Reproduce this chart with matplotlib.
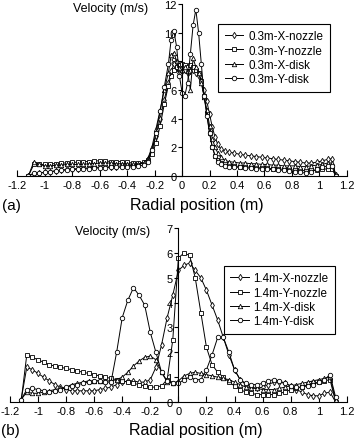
import matplotlib
matplotlib.use("Agg")
import matplotlib.pyplot as plt

plt.rcParams['font.family'] = ['Liberation Sans', 'DejaVu Sans']
plt.rcParams['axes.unicode_minus'] = False

# radial positions (m), panel (a)
r_a = [-1.12, -1.08, -1.04, -1.00, -0.96, -0.92, -0.88, -0.84, -0.80, -0.76, -0.72,
       -0.68, -0.64, -0.60, -0.56, -0.52, -0.48, -0.44, -0.40, -0.36, -0.32, -0.28,
       -0.25, -0.22, -0.19, -0.16, -0.13, -0.10,
       -0.08, -0.06, -0.04, -0.02, 0.00, 0.02, 0.04, 0.06, 0.08, 0.10, 0.12, 0.14,
       0.16, 0.18, 0.20, 0.22, 0.24, 0.26, 0.28,
       0.31, 0.34,
       0.38, 0.42, 0.46, 0.50, 0.54, 0.58, 0.62, 0.66, 0.70, 0.74, 0.78, 0.82, 0.86,
       0.90, 0.94, 0.98, 1.02, 1.06,
       1.09, 1.12]

a_x_nozzle = [0.0, 0.15, 0.2, 0.25, 0.3, 0.35, 0.4, 0.45, 0.5, 0.5, 0.55, 0.55, 0.6, 0.6,
              0.6, 0.65, 0.65, 0.7, 0.7, 0.75, 0.8, 0.9,
              1.2, 1.8, 2.8, 4.0, 5.3, 6.5,
              7.3, 7.8, 7.5, 7.2, 7.3, 7.4, 7.2, 7.3, 7.4, 7.2, 7.0, 6.6, 6.0, 5.2, 4.3,
              3.4, 2.7, 2.2, 1.9,
              1.75, 1.65,
              1.6, 1.5, 1.45, 1.4, 1.35, 1.3, 1.25, 1.2, 1.15, 1.1, 1.05, 1.0, 0.95, 0.9,
              0.9, 0.95, 1.05, 1.15,
              1.2, 0.0]
a_y_nozzle = [0.0, 0.8, 0.8, 0.8, 0.85, 0.85, 0.9, 0.9, 0.95, 0.95, 1.0, 1.0, 1.05, 1.05,
              1.05, 1.0, 1.0, 1.0, 0.95, 0.9, 0.9, 0.95,
              1.1, 1.5, 2.3, 3.5, 5.0, 6.3,
              7.0, 7.4, 7.6, 7.7, 7.8, 7.7, 7.6, 7.7, 7.6, 7.4, 7.2, 6.6, 5.6, 4.4, 3.0,
              2.0, 1.4, 1.1, 0.9,
              0.8, 0.75,
              0.7, 0.65, 0.65, 0.6, 0.6, 0.55, 0.55, 0.5, 0.5, 0.45, 0.45, 0.4, 0.4, 0.35,
              0.4, 0.4, 0.45, 0.5,
              0.5, 0.0]
a_x_disk = [0.0, 1.0, 0.8, 0.7, 0.7, 0.75, 0.75, 0.8, 0.8, 0.8, 0.8, 0.85, 0.85, 0.9,
            0.9, 0.9, 0.85, 0.85, 0.85, 0.8, 0.85, 0.9,
            1.2, 2.0, 3.3, 4.6, 6.0, 7.2,
            8.4, 8.6, 8.0, 7.5, 7.4, 7.6, 7.3, 6.0, 8.2, 7.6, 7.2, 6.5, 5.5, 4.6, 3.5,
            2.6, 2.0, 1.6, 1.3,
            1.1, 1.0,
            0.95, 0.9, 0.9, 0.85, 0.85, 0.8, 0.8, 0.75, 0.75, 0.7, 0.7, 0.7, 0.65, 0.65,
            0.7, 0.75, 0.8, 0.9,
            0.9, 0.1]
a_y_disk = [0.0, 0.2, 0.2, 0.25, 0.3, 0.35, 0.4, 0.4, 0.45, 0.45, 0.5, 0.5, 0.55, 0.55,
            0.55, 0.6, 0.6, 0.6, 0.6, 0.65, 0.7, 0.75,
            1.0, 1.8, 3.0, 4.5, 6.2, 7.8,
            9.5, 10.1, 9.0, 7.0, 5.8, 5.6, 6.5, 8.5, 10.5, 11.6, 10.0, 7.8, 5.6, 4.2, 3.0,
            2.0, 1.4, 1.0, 0.8,
            0.7, 0.65,
            0.6, 0.6, 0.55, 0.55, 0.5, 0.5, 0.45, 0.45, 0.4, 0.4, 0.35, 0.3, 0.25, 0.2,
            0.3, 0.45, 0.6, 0.7,
            0.7, 0.0]

# radial positions (m), panel (b)
r_b = [-1.12, -1.08, -1.04, -1.00, -0.96, -0.92, -0.88, -0.84, -0.80, -0.76,
       -0.72, -0.68, -0.64, -0.60, -0.56, -0.52, -0.48, -0.44, -0.40, -0.36,
       -0.32, -0.28, -0.24, -0.20, -0.16, -0.12, -0.08, -0.04, 0.00, 0.04,
       0.08, 0.12, 0.16, 0.20, 0.24, 0.28, 0.32, 0.36, 0.40, 0.44,
       0.48, 0.52, 0.56, 0.60, 0.64, 0.68, 0.72, 0.76, 0.80, 0.84,
       0.88, 0.92, 0.96, 1.00, 1.04, 1.08, 1.12]

b_x_nozzle = [0.1, 1.4, 1.3, 1.15, 1.0, 0.85, 0.7, 0.6, 0.5, 0.45,
              0.45, 0.45, 0.45, 0.45, 0.5, 0.55, 0.6, 0.7, 0.8, 0.85,
              0.85, 0.8, 0.8, 0.9, 1.4, 2.3, 3.4, 4.3, 5.3, 5.5,
              5.6, 5.3, 5.0, 4.5, 3.9, 3.3, 2.6, 1.9, 1.3, 0.9,
              0.7, 0.6, 0.55, 0.6, 0.7, 0.8, 0.8, 0.75, 0.65, 0.5,
              0.4, 0.3, 0.25, 0.25, 0.35, 0.4, 0.0]
b_y_nozzle = [0.05, 1.9, 1.8, 1.7, 1.6, 1.5, 1.45, 1.4, 1.35, 1.3,
              1.25, 1.2, 1.15, 1.1, 1.05, 1.0, 0.95, 0.9, 0.85, 0.8,
              0.75, 0.7, 0.65, 0.6, 0.6, 0.65, 0.9, 2.5, 5.8, 6.0,
              5.9, 5.0, 3.6, 2.2, 1.5, 1.2, 1.0, 0.8, 0.65, 0.5,
              0.4, 0.35, 0.3, 0.3, 0.3, 0.3, 0.35, 0.4, 0.5, 0.55,
              0.6, 0.7, 0.75, 0.8, 0.85, 0.9, 0.0]
b_x_disk = [0.1, 0.4, 0.35, 0.35, 0.4, 0.45, 0.5, 0.55, 0.6, 0.7,
            0.75, 0.8, 0.85, 0.85, 0.85, 0.85, 0.85, 0.9, 1.0, 1.2,
            1.45, 1.65, 1.8, 1.85, 1.7, 1.2, 0.8, 0.75, 0.85, 1.05,
            1.15, 1.2, 1.15, 1.1, 1.05, 1.0, 0.95, 0.9, 0.8, 0.7,
            0.6, 0.55, 0.55, 0.5, 0.5, 0.5, 0.55, 0.6, 0.65, 0.7,
            0.75, 0.8, 0.85, 0.9, 0.95, 1.0, 0.1]
b_y_disk = [0.1, 0.5, 0.55, 0.5, 0.45, 0.4, 0.45, 0.5, 0.6, 0.65,
            0.7, 0.75, 0.8, 0.85, 0.85, 0.8, 0.8, 2.0, 3.4, 4.1,
            4.6, 4.3, 3.9, 2.8, 2.0, 1.2, 0.85, 0.75, 0.75, 0.9,
            1.0, 0.9, 0.9, 1.3, 1.9, 2.6, 2.6, 2.0, 1.3, 0.9,
            0.75, 0.7, 0.7, 0.75, 0.85, 0.9, 0.85, 0.75, 0.65, 0.6,
            0.6, 0.65, 0.7, 0.8, 0.9, 1.1, 0.2]

x_ticks = [-1.2, -1.0, -0.8, -0.6, -0.4, -0.2, 0.0, 0.2, 0.4, 0.6, 0.8, 1.0, 1.2]
x_tick_labels = ["-1.2", "-1", "-0.8", "-0.6", "-0.4", "-0.2", "0",
                 "0.2", "0.4", "0.6", "0.8", "1", "1.2"]

markers = ["d", "s", "^", "o"]


def draw_panel(ax, r, series, labels, ymax, ystep, vel_pos, leg_anchor):
    for y, lab, m in zip(series, labels, markers):
        ax.plot(r, y, color="black", lw=0.7, marker=m, markersize=3.2,
                markerfacecolor="white", markeredgecolor="black",
                markeredgewidth=0.6, label=lab)

    ax.set_xlim(-1.2, 1.2)
    ax.set_ylim(0, ymax)
    ax.spines["left"].set_position(("data", 0))
    ax.spines["bottom"].set_position(("data", 0))
    ax.spines["top"].set_visible(False)
    ax.spines["right"].set_visible(False)
    for s in ("left", "bottom"):
        ax.spines[s].set_linewidth(0.8)
    ax.set_xticks(x_ticks)
    ax.set_xticklabels(x_tick_labels)
    ax.set_yticks(range(0, ymax + 1, ystep))
    ax.tick_params(axis="x", direction="in", length=4, width=0.8,
                   labelsize=8, pad=3)
    ax.tick_params(axis="y", direction="out", length=3, width=0.8,
                   labelsize=8, pad=1)
    ax.text(vel_pos[0], vel_pos[1], "Velocity (m/s)", ha="right",
            va="center", fontsize=9)
    leg = ax.legend(loc="upper left", bbox_to_anchor=leg_anchor,
                    fontsize=8.4, frameon=True, fancybox=False,
                    edgecolor="black", framealpha=1, borderaxespad=0,
                    handlelength=1.6, handletextpad=0.4, labelspacing=0.2,
                    borderpad=0.55)
    leg.get_frame().set_linewidth(0.8)


fig = plt.figure(figsize=(3.55, 4.39), dpi=100)
ax_a = fig.add_axes([0.049, 0.597, 0.928, 0.392])
ax_b = fig.add_axes([0.028, 0.082, 0.949, 0.396])

draw_panel(ax_a, r_a, [a_x_nozzle, a_y_nozzle, a_x_disk, a_y_disk],
           ["0.3m-X-nozzle", "0.3m-Y-nozzle", "0.3m-X-disk", "0.3m-Y-disk"],
           12, 2, (-0.25, 11.7), (0.61, 0.884))
draw_panel(ax_b, r_b, [b_x_nozzle, b_y_nozzle, b_x_disk, b_y_disk],
           ["1.4m-X-nozzle", "1.4m-Y-nozzle", "1.4m-X-disk", "1.4m-Y-disk"],
           7, 1, (-0.2, 6.88), (0.635, 0.782))

fig.text(0.555, 0.531, "Radial position (m)", ha="center", va="center",
         fontsize=11.5)
fig.text(0.006, 0.531, "(a)", ha="left", va="center", fontsize=11)
fig.text(0.552, 0.019, "Radial position (m)", ha="center", va="center",
         fontsize=11.5)
fig.text(0.003, 0.019, "(b)", ha="left", va="center", fontsize=11)

fig.savefig("out.png", dpi=100)
